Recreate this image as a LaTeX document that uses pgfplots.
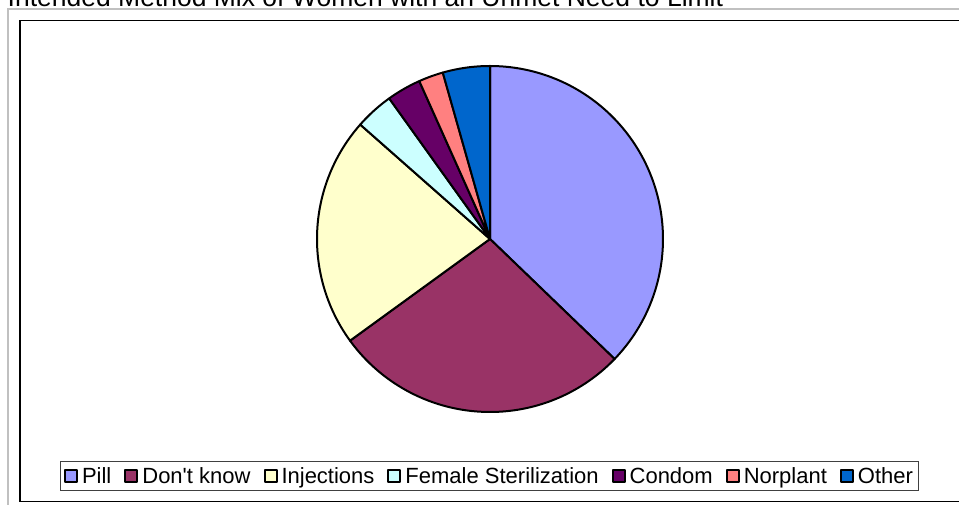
\documentclass[border=0pt]{standalone}
\usepackage{pgfplots}
\usepackage{pgfplotstable}
\pgfplotsset{compat=1.18}
\usepackage{fontspec}
\newfontfamily\arial{Liberation Sans}
\definecolor{cPill}{HTML}{9999FF}
\definecolor{cDK}{HTML}{993366}
\definecolor{cInj}{HTML}{FFFFCC}
\definecolor{cFS}{HTML}{CCFFFF}
\definecolor{cCon}{HTML}{660066}
\definecolor{cNor}{HTML}{FF8080}
\definecolor{cOth}{HTML}{0066CC}
\definecolor{frameGray}{HTML}{C0C0C0}

% share of each method (percent), in drawing order
\pgfplotstableread{
value col
37.2  cPill
27.8  cDK
21.5  cInj
3.6   cFS
3.2   cCon
2.3   cNor
4.4   cOth
}\piedata

\begin{document}
\begin{tikzpicture}[x=1pt,y=1pt]
\path[use as bounding box, clip] (0,0) rectangle (959,505);
\fill[white] (0,0) rectangle (959,505);
% outer gray frame
\draw[frameGray, line width=2.2pt] (8,-10) -- (8,496) -- (975,496);
% inner chart frame
\draw[black, line width=1.6pt] (20,3.5) rectangle (980,484.5);
% title (top cut off as in the reference)
\node[anchor=base west, inner sep=0pt, font=\arial\fontsize{26.5}{30}\selectfont] at (7.5,498.5) {Intended Method Mix of Women with an Unmet Need to Limit};

\begin{axis}[
  at={(490pt,266pt)}, anchor=center,
  x=173pt, y=173pt,
  xmin=-1, xmax=1, ymin=-1, ymax=1,
  hide axis, clip=false,
  legend columns=-1,
  legend entries={Pill, Don't know, Injections, Female Sterilization, Condom, Norplant, Other},
  legend image code/.code={\draw[#1, line width=2pt] (0pt,-6pt) rectangle (12pt,6pt);},
  legend style={
    at={(axis description cs:0.4986,-0.185)}, anchor=center,
    draw=black!75, line width=1pt,
    font=\arial\fontsize{22}{26}\selectfont,
    inner xsep=4pt, inner ysep=4pt,
    /tikz/every odd column/.append style={column sep=2pt},
    /tikz/every even column/.append style={column sep=11pt},
  },
  legend cell align=left,
]
\def\cum{90}
\pgfplotsforeachungrouped \i in {0,...,6}{%
  \pgfplotstablegetelem{\i}{value}\of\piedata
  \pgfmathsetmacro\endang{\cum-3.6*\pgfplotsretval}%
  \pgfplotstablegetelem{\i}{col}\of\piedata
  \edef\doplot{\noexpand\addplot[fill=\pgfplotsretval, draw=black, line width=2pt, line join=round, domain=\endang:\cum, samples=120, variable=\noexpand\t] ({cos(\noexpand\t)}, {sin(\noexpand\t)}) -- (0,0) -- cycle;}%
  \doplot
  \global\let\cum\endang
}
\end{axis}
\end{tikzpicture}
\end{document}
